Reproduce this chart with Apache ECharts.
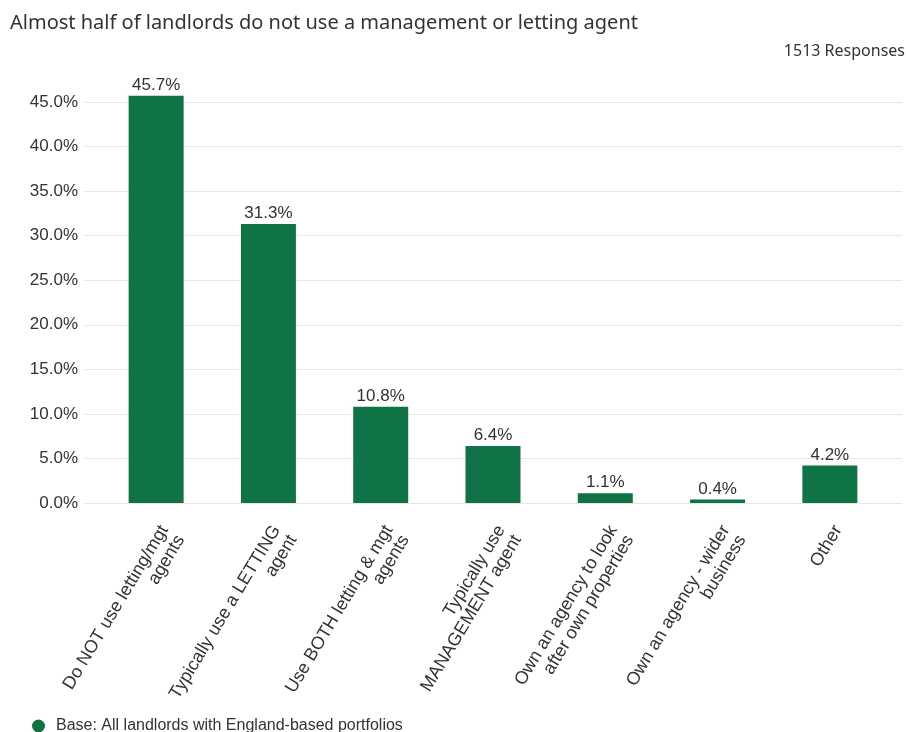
<!DOCTYPE html>
<html>
<head>
<meta charset="utf-8">
<script src="https://cdn.jsdelivr.net/npm/echarts@6/dist/echarts.min.js"></script>
<style>
  html, body { margin: 0; padding: 0; background: #fff; }
  #chart { width: 906px; height: 732px; }
</style>
</head>
<body>
<div id="chart"></div>
<script>
// Survey answers: how landlords manage their lettings
const categories = [
  'Do NOT use letting/mgt\nagents',
  'Typically use a LETTING\nagent',
  'Use BOTH letting & mgt\nagents',
  'Typically use\nMANAGEMENT agent',
  'Own an agency to look\nafter own properties',
  'Own an agency - wider\nbusiness',
  'Other'
];
const shares = [45.7, 31.3, 10.8, 6.4, 1.1, 0.4, 4.2];
const yTicks = { min: 0, max: 45, step: 5 };
const seriesName = 'Base: All landlords with England-based portfolios';
const titleText = 'Almost half of landlords do not use a management or letting agent';
const responsesText = '1513 Responses';

const green = '#107346';
const textColor = '#333333';
const axisFont = 'Liberation Sans, Arial, sans-serif';

const chart = echarts.init(document.getElementById('chart'), null, { renderer: 'canvas' });

chart.setOption({
  animation: false,
  title: [
    {
      text: titleText,
      left: 5,
      top: 8,
      textStyle: { fontFamily: 'Noto Sans', fontSize: 20, fontWeight: 'normal', color: textColor }
    },
    {
      text: responsesText,
      right: -4,
      top: 38,
      textStyle: { fontFamily: 'Noto Sans', fontSize: 16, fontWeight: 'normal', color: textColor }
    }
  ],
  legend: {
    data: [seriesName],
    left: 27,
    top: 713,
    icon: 'circle',
    itemWidth: 13,
    itemHeight: 13,
    textStyle: {
      fontFamily: axisFont,
      fontSize: 16,
      color: textColor,
      padding: [0, 0, 0, 6]
    }
  },
  grid: [
    // wide grid carrying the value axis and its gridlines
    { left: 84, right: 4, top: 102, bottom: 229 },
    // inset grid carrying the bars
    { left: 100, right: 20, top: 102, bottom: 229 }
  ],
  xAxis: [
    { gridIndex: 0, type: 'value', min: 0, max: 1, show: false },
    {
      gridIndex: 1,
      type: 'category',
      data: categories,
      axisLine: { show: false },
      axisTick: { show: false },
      axisLabel: {
        interval: 0,
        rotate: 59,
        margin: 19,
        verticalAlign: 'top',
        fontFamily: axisFont,
        fontSize: 18,
        color: textColor,
        lineHeight: 19
      }
    }
  ],
  yAxis: [
    {
      gridIndex: 0,
      type: 'value',
      min: yTicks.min,
      max: yTicks.max,
      interval: yTicks.step,
      axisLine: { show: false },
      axisTick: { show: false },
      axisLabel: {
        margin: 6,
        fontFamily: axisFont,
        fontSize: 17,
        color: textColor,
        formatter: v => v.toFixed(1) + '%'
      },
      splitLine: { lineStyle: { color: '#e6e6e6', width: 1 } }
    },
    {
      gridIndex: 1,
      type: 'value',
      min: yTicks.min,
      max: yTicks.max,
      interval: yTicks.step,
      show: false
    }
  ],
  series: [
    {
      name: seriesName,
      type: 'bar',
      xAxisIndex: 1,
      yAxisIndex: 1,
      data: shares,
      barWidth: 55,
      clip: false,
      itemStyle: { color: green },
      label: {
        show: true,
        position: 'top',
        distance: 2,
        fontFamily: axisFont,
        fontSize: 17,
        color: textColor,
        formatter: p => p.value.toFixed(1) + '%'
      }
    }
  ]
});
</script>
</body>
</html>
